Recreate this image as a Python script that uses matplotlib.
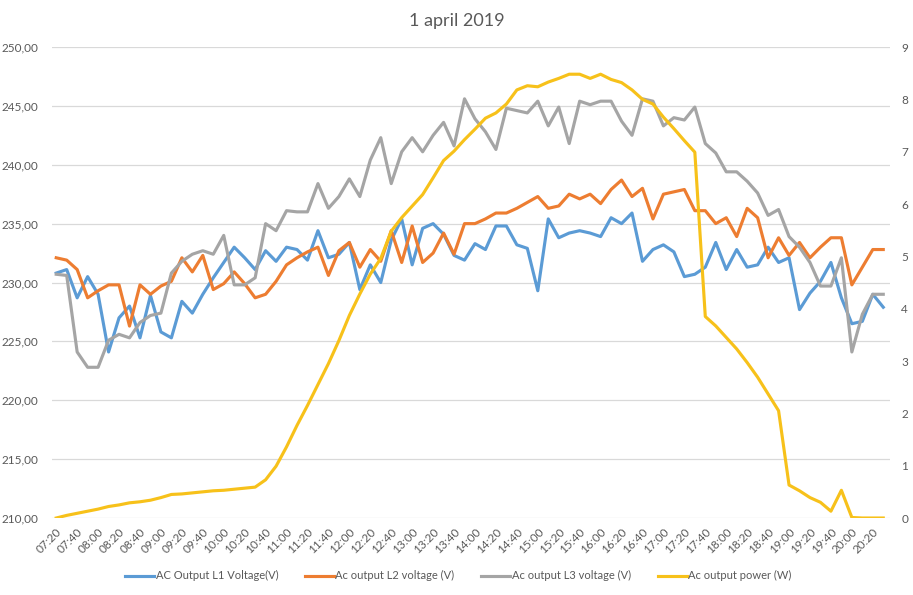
import numpy as np
import matplotlib.pyplot as plt
from matplotlib.ticker import FuncFormatter, FixedLocator

plt.rcParams['font.family'] = ['Lato', 'DejaVu Sans']

tick_labels = ['07:20', '07:40', '08:00', '08:20', '08:40', '09:00', '09:20', '09:40',
               '10:00', '10:20', '10:40', '11:00', '11:20', '11:40', '12:00', '12:20',
               '12:40', '13:00', '13:20', '13:40', '14:00', '14:20', '14:40', '15:00',
               '15:20', '15:40', '16:00', '16:20', '16:40', '17:00', '17:20', '17:40',
               '18:00', '18:20', '18:40', '19:00', '19:20', '19:40', '20:00', '20:20']

l1 = [230.8, 231.1, 228.7, 230.5, 229.0, 224.1, 227.0, 228.0, 225.3, 228.9,
      225.8, 225.3, 228.4, 227.4, 229.0, 230.4, 231.7, 233.0, 232.1, 231.1,
      232.7, 231.8, 233.0, 232.8, 231.9, 234.4, 232.1, 232.4, 233.4, 229.4,
      231.5, 230.0, 233.6, 235.4, 231.5, 234.6, 235.0, 234.1, 232.3, 231.9,
      233.3, 232.8, 234.8, 234.8, 233.2, 232.9, 229.3, 235.4, 233.8, 234.2,
      234.4, 234.2, 233.9, 235.5, 235.0, 235.9, 231.8, 232.8, 233.2, 232.6,
      230.5, 230.7, 231.3, 233.4, 231.1, 232.8, 231.3, 231.5, 233.0, 231.7,
      232.1, 227.7, 229.1, 230.1, 231.7, 228.7, 226.5, 226.7, 229.0, 227.9]

l2 = [232.1, 231.9, 231.1, 228.7, 229.3, 229.8, 229.8, 226.3, 229.8, 229.0,
      229.7, 230.1, 232.1, 230.9, 232.3, 229.4, 229.9, 230.9, 229.9, 228.7,
      229.0, 230.1, 231.5, 232.1, 232.6, 233.0, 230.6, 232.7, 233.4, 231.3,
      232.8, 231.8, 234.4, 231.7, 234.8, 231.7, 232.5, 234.2, 232.4, 235.0,
      235.0, 235.4, 235.9, 235.9, 236.3, 236.8, 237.3, 236.3, 236.5, 237.5,
      237.1, 237.5, 236.7, 237.9, 238.7, 237.3, 238.0, 235.4, 237.5, 237.7,
      237.9, 236.1, 236.1, 235.0, 235.5, 233.9, 236.3, 235.5, 232.1, 233.8,
      232.3, 233.4, 232.1, 233.0, 233.8, 233.8, 229.8, 231.3, 232.8, 232.8]

l3 = [230.7, 230.6, 224.1, 222.8, 222.8, 225.1, 225.6, 225.3, 226.6, 227.2,
      227.4, 230.8, 231.8, 232.4, 232.7, 232.4, 234.0, 229.8, 229.8, 230.4,
      235.0, 234.4, 236.1, 236.0, 236.0, 238.4, 236.3, 237.3, 238.8, 237.3,
      240.4, 242.3, 238.4, 241.1, 242.3, 241.1, 242.5, 243.6, 241.6, 245.6,
      243.9, 242.8, 241.3, 244.8, 244.6, 244.4, 245.4, 243.3, 244.9, 241.8,
      245.4, 245.1, 245.4, 245.4, 243.7, 242.5, 245.6, 245.4, 243.3, 244.0,
      243.8, 244.9, 241.8, 241.0, 239.4, 239.4, 238.6, 237.6, 235.7, 236.2,
      233.9, 233.0, 231.7, 229.7, 229.7, 232.1, 224.1, 227.3, 229.0, 229.0]

power = [0.0, 0.05, 0.09, 0.13, 0.17, 0.22, 0.25, 0.29, 0.31, 0.34,
         0.39, 0.45, 0.46, 0.48, 0.50, 0.52, 0.53, 0.55, 0.57, 0.59,
         0.73, 0.99, 1.36, 1.77, 2.15, 2.55, 2.95, 3.39, 3.87, 4.28,
         4.66, 4.96, 5.48, 5.74, 5.96, 6.18, 6.50, 6.83, 7.01, 7.23,
         7.43, 7.64, 7.74, 7.91, 8.18, 8.26, 8.24, 8.33, 8.40, 8.48,
         8.48, 8.40, 8.48, 8.38, 8.32, 8.18, 8.00, 7.91, 7.66, 7.44,
         7.21, 6.99, 3.85, 3.67, 3.45, 3.23, 2.97, 2.69, 2.37, 2.05,
         0.63, 0.52, 0.39, 0.30, 0.13, 0.53, 0.01, 0.0, 0.0, 0.0]

c_blue = '#5B9BD5'
c_orange = '#ED7D31'
c_gray = '#A5A5A5'
c_yellow = '#F7C11A'
txt = '#595959'

x = np.arange(len(l1))

fig = plt.figure(figsize=(9.13, 5.95), dpi=100)
ax = fig.add_axes([0.057, 0.1294, 0.918, 0.7916])
ax2 = ax.twinx()

lw = 2.25
h1, = ax.plot(x, l1, color=c_blue, lw=lw, label='AC Output L1 Voltage(V)')
h2, = ax.plot(x, l2, color=c_orange, lw=lw, label='Ac output L2 voltage (V)')
h3, = ax.plot(x, l3, color=c_gray, lw=lw, label='Ac output L3 voltage (V)')
h4, = ax2.plot(x, power, color=c_yellow, lw=lw, label='Ac output power (W)')

ax.set_ylim(210, 250)
ax.set_yticks(np.arange(210, 251, 5))
ax.yaxis.set_major_formatter(FuncFormatter(lambda v, p: ('%.2f' % v).replace('.', ',')))
ax2.set_ylim(0, 9)
ax2.set_yticks(range(0, 10))

ax.set_xlim(-0.4, 79.66)
ax.xaxis.set_major_locator(FixedLocator(x[::2]))
ax.set_xticklabels(tick_labels, rotation=45, ha='right', rotation_mode='anchor')

ax.grid(axis='y', color='#D9D9D9', lw=0.9)
ax.set_axisbelow(True)
for a in (ax, ax2):
    for s in a.spines.values():
        s.set_visible(False)
    a.tick_params(length=0, labelsize=8.5, colors=txt)
ax.tick_params(axis='x', pad=6)
ax.tick_params(axis='y', pad=10)
ax2.tick_params(axis='y', pad=8)

fig.text(0.5, 0.965, '1 april 2019', ha='center', va='center', fontsize=13, color=txt)

fig.legend(handles=[h1, h2, h3, h4], loc='center', bbox_to_anchor=(0.502, 0.032),
           ncol=4, frameon=False, fontsize=8, labelcolor=txt, handlelength=2.6,
           handletextpad=0.15, columnspacing=2.4)

fig.savefig('out.png', dpi=100)
